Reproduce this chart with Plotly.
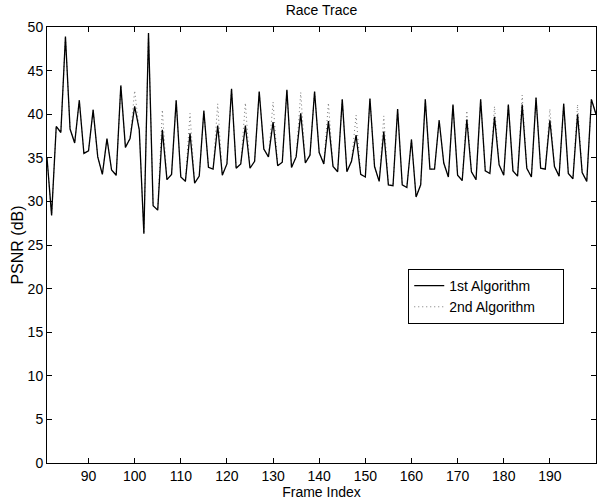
import plotly.graph_objects as go

# frame indices 81..200
frames = list(range(81, 201))

# PSNR of the 1st algorithm
psnr_alg1 = [35.0, 28.4, 38.6, 37.9, 48.9, 38.3, 36.7, 41.6, 35.5, 35.8,
             40.5, 35.1, 33.1, 37.2, 33.6, 33.0, 43.3, 36.2, 37.2, 40.9,
             38.2, 26.3, 49.3, 29.5, 29.0, 38.2, 32.5, 33.1, 41.6, 32.8,
             32.3, 37.8, 32.1, 32.9, 40.4, 33.9, 33.7, 38.7, 33.0, 34.3,
             42.9, 33.8, 34.3, 38.7, 33.8, 34.6, 42.6, 36.0, 35.1, 39.1,
             34.1, 34.5, 42.8, 33.9, 35.1, 40.1, 34.4, 35.3, 42.6, 35.6,
             34.3, 39.2, 34.0, 33.4, 41.7, 33.4, 34.6, 37.6, 33.1, 32.8,
             41.8, 34.0, 32.3, 38.0, 31.9, 31.8, 40.6, 31.9, 31.6, 37.1,
             30.5, 31.9, 41.7, 33.7, 33.7, 39.3, 34.4, 32.8, 41.1, 33.0,
             32.4, 39.4, 33.4, 32.5, 41.7, 33.5, 33.2, 39.7, 34.2, 33.0,
             41.1, 33.5, 32.9, 41.1, 33.8, 32.8, 41.9, 33.8, 33.7, 39.3,
             34.0, 32.9, 41.2, 33.2, 32.6, 40.0, 33.3, 32.3, 41.7, 40.0]

# the 2nd algorithm follows the 1st except at these peaks
alg2_peaks = {100: 42.7, 106: 40.5, 112: 40.1, 118: 41.2, 124: 41.3,
              130: 41.4, 136: 42.5, 142: 41.3, 148: 39.9, 154: 39.8,
              172: 40.4, 178: 40.9, 184: 42.2, 190: 40.6, 196: 41.1}
psnr_alg2 = [alg2_peaks.get(f, v) for f, v in zip(frames, psnr_alg1)]

x_ticks = list(range(90, 200, 10))
y_ticks = list(range(0, 55, 5))

family = "Liberation Sans, Arial, sans-serif"
font = dict(family=family, size=14, color="black")
dot_line = dict(color="#777777", width=1, dash="1px,3px")
pad = "\u00a0" * 6  # extra room on the right of the legend box

fig = go.Figure()
fig.add_trace(go.Scatter(x=frames, y=psnr_alg2, mode="lines", name="2nd Algorithm" + pad,
                         line=dot_line, showlegend=False))
fig.add_trace(go.Scatter(x=frames, y=psnr_alg1, mode="lines", name="1st Algorithm" + pad,
                         line=dict(color="black", width=1.3)))
# legend entry for the dotted line, listed after the solid one
fig.add_trace(go.Scatter(x=[None], y=[None], mode="lines", name="2nd Algorithm" + pad,
                         line=dot_line))

axis_style = dict(showline=True, linecolor="black", linewidth=1, mirror="ticks",
                  ticks="inside", ticklen=5, tickcolor="black", showgrid=False,
                  zeroline=False, tickfont=font, automargin=False)

fig.update_layout(
    width=597, height=500,
    margin=dict(l=47, r=1, t=27, b=37),
    paper_bgcolor="white", plot_bgcolor="white",
    font=font,
    title=dict(text="Race Trace", x=0.5, xref="paper", xanchor="center",
               y=1 - 10 / 500, yanchor="middle", font=font),
    xaxis=dict(range=[81, 200], tickvals=x_ticks,
               title=dict(text="Frame Index", font=font, standoff=0), **axis_style),
    yaxis=dict(range=[0, 50], tickvals=y_ticks,
               title=dict(text="PSNR (dB)", standoff=0,
                          font=dict(family=family, size=16, color="black")),
               **axis_style),
    legend=dict(x=0.658, y=0.445, xanchor="left", yanchor="top",
                bordercolor="black", borderwidth=1, bgcolor="white",
                font=font, tracegroupgap=0),
)

# page body has an 8px margin by default; drop it so the chart fills the window
fig.write_html("out.html", config={"displayModeBar": False},
               post_script="document.body.style.margin='0';")
